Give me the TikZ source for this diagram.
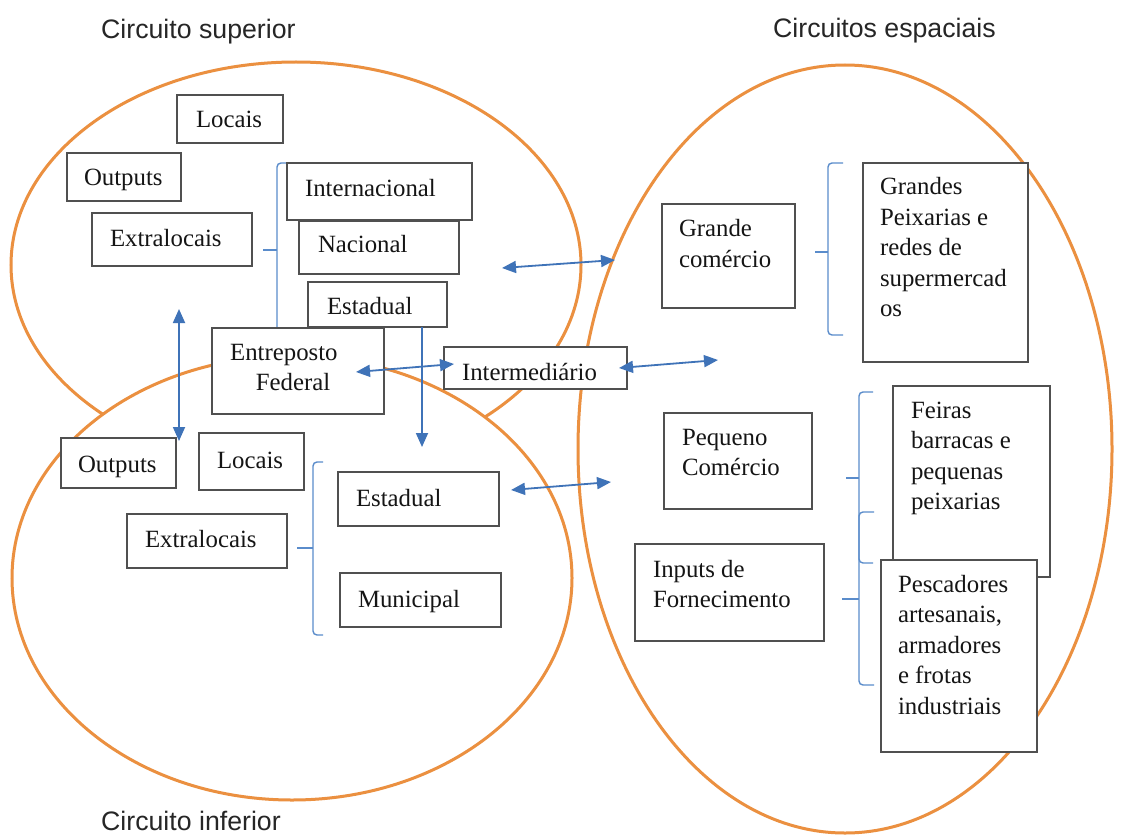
\documentclass[tikz,border=0pt]{standalone}
\usepackage{fontspec}
\setmainfont{Liberation Serif}
\newfontfamily\titlefont{Liberation Sans}
\usetikzlibrary{arrows.meta}
\definecolor{orng}{HTML}{EB9040}
\definecolor{arrblue}{HTML}{3F73B8}
\definecolor{brblue}{HTML}{5A8CCB}
\definecolor{boxgray}{HTML}{505050}
\definecolor{txt}{HTML}{151515}
% name, x, y, w, h, padx, baseline offset, text
\newcommand\tb[8]{\node[box] (#1) at (#2,#3) {\parbox[t][#5pt][t]{#4pt}{\raggedright\leftskip=#6pt\relax\vspace*{\dimexpr#7pt-21.35pt\relax}\strut #8\par}};}
\begin{document}
\begin{tikzpicture}[x=1pt,y=-1pt,
  ell/.style={draw=orng, line width=3pt},
  box/.style={draw=boxgray, line width=1.8pt, fill=white, anchor=north west, inner sep=0pt, outer sep=0pt, text=txt, font=\fontsize{24.8}{30.5}\selectfont},
  arr/.style={draw=arrblue, line width=1.8pt, {Triangle[length=14pt,width=12pt]}-{Triangle[length=14pt,width=12pt]}},
  arrone/.style={draw=arrblue, line width=1.8pt, -{Triangle[length=14pt,width=12pt]}},
  brk/.style={draw=brblue, line width=1.4pt, rounded corners=4pt},
  ttl/.style={font=\titlefont\fontsize{26.7}{30}\selectfont, anchor=base west, inner sep=0pt, text=black!85}
]
\useasboundingbox (0,0) rectangle (1129,837);
\fill[white] (0,0) rectangle (1129,837);

% titles
\node[ttl] (tsup) at (101,39) {Circuito superior};
\node[ttl] (tesp) at (773,38) {Circuitos espaciais};
\node[ttl] (tinf) at (101,830) {Circuito inferior};

% ellipses
\draw[ell] (296,265) ellipse [x radius=285pt, y radius=203pt];
\draw[ell, fill=white] (292,578) ellipse [x radius=280pt, y radius=222pt];
\draw[ell] (845,449) ellipse [x radius=267pt, y radius=384pt];

% brackets
\draw[brk] (290,163) -- (277,163) -- (277,328);
\draw[brk] (263,250) -- (277,250);
\draw[brk] (323,462) -- (313,462) -- (313,635) -- (323,635);
\draw[brk] (297,548) -- (313,548);
\draw[brk] (843,163) -- (828,163) -- (828,335) -- (843,335);
\draw[brk] (815,252) -- (828,252);
\draw[brk] (873,392) -- (859,392) -- (859,563) -- (873,563);
\draw[brk] (846,478) -- (859,478);
\draw[brk] (874,512) -- (859,512) -- (859,685) -- (874,685);
\draw[brk] (842,599) -- (859,599);

% boxes: upper circuit
\tb{locU}{177}{95}{106}{48}{19}{33}{Locais}
\tb{outU}{67}{153}{114}{48}{17}{33}{Outputs}
\tb{extU}{92}{213}{160}{53}{18}{33}{Extralocais}
\tb{intl}{287}{163}{185}{57}{18}{34}{Internacional}
\tb{nac}{299}{221}{160}{53}{19}{32}{Nacional}
\tb{estU}{308}{282}{139}{45}{19}{32}{Estadual}
\node[box] (entr) at (212,328) {\parbox[t][86pt][t]{172pt}{\leftskip=0pt plus 1fil\rightskip=10pt plus 1fil\parfillskip=0pt\relax\vspace*{\dimexpr32pt-21.35pt\relax}\strut Entreposto\\Federal\par}};
\tb{inter}{444}{347}{183}{42}{18}{33}{Intermediário}
% boxes: lower circuit
\tb{outL}{61}{438}{115}{50}{17}{34}{Outputs}
\tb{locL}{199}{433}{105}{57}{18}{35}{Locais}
\tb{extL}{127}{514}{160}{54}{18}{33}{Extralocais}
\tb{estL}{338}{472}{161}{54}{18}{34}{Estadual}
\tb{mun}{340}{573}{161}{54}{18}{34}{Municipal}
% boxes: spatial circuits
\tb{grande}{662}{204}{133}{104}{17}{33}{Grande\\comércio}
\tb{gpeix}{863}{163}{165}{199}{17}{32}{Grandes\\Peixarias e\\redes de\\supermercad\\os}
\tb{peq}{664}{413}{148}{96}{18}{32}{Pequeno\\Comércio}
\tb{inp}{635}{544}{189}{97}{18}{33}{Inputs de\\Fornecimento}
\tb{feir}{893}{386}{157}{191}{18}{32}{Feiras\\barracas e\\pequenas\\peixarias}
\tb{pesc}{881}{560}{156}{192}{17}{32}{Pescadores\\artesanais,\\armadores\\e frotas\\industriais}

% arrow end points
\coordinate (vA) at (179,309);
\coordinate (vB) at (179,441);
\coordinate (dA) at (422,327);
\coordinate (dB) at (422,447);
\coordinate (eA) at (356,372);
\coordinate (eB) at (454,364);
\coordinate (iA) at (619,368);
\coordinate (iB) at (718,360);
\coordinate (tA) at (502,268);
\coordinate (tB) at (615,260);
\coordinate (lA) at (511,490);
\coordinate (lB) at (611,482);

\draw[arr] (vA) -- (vB);
\draw[arrone] (dA) -- (dB);
\draw[arr] (eA) -- (eB);
\draw[arr] (iA) -- (iB);
\draw[arr] (tA) -- (tB);
\draw[arr] (lA) -- (lB);
\end{tikzpicture}
\end{document}
